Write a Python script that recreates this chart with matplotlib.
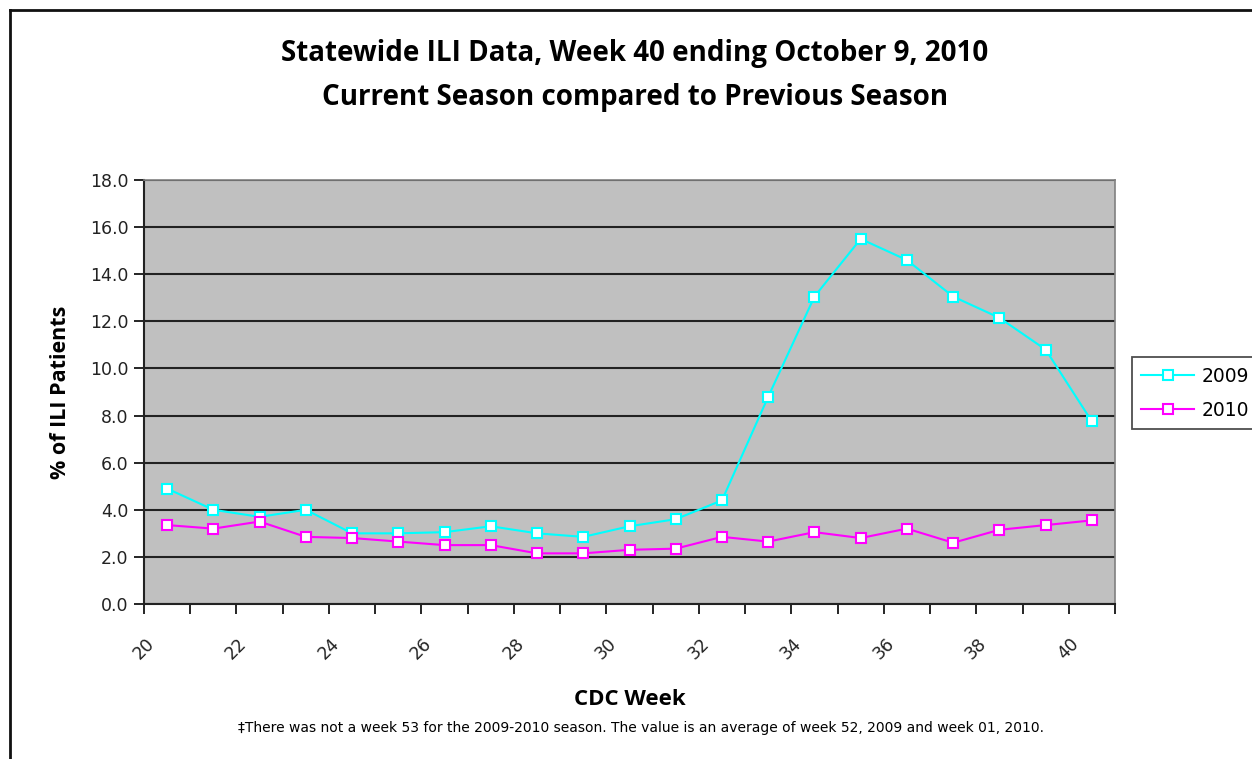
import matplotlib
matplotlib.use("Agg")
import matplotlib.pyplot as plt
import numpy as np
from matplotlib.lines import Line2D

# CDC weeks and % of ILI patients
weeks = list(range(20, 41))
ili_2009 = [4.9, 4.0, 3.7, 4.0, 3.0, 3.0, 3.05, 3.3, 3.0, 2.85, 3.3,
            3.6, 4.4, 8.8, 13.05, 15.5, 14.6, 13.05, 12.15, 10.8, 7.75]
ili_2010 = [3.35, 3.2, 3.5, 2.85, 2.8, 2.65, 2.5, 2.5, 2.15, 2.15, 2.3,
            2.35, 2.85, 2.65, 3.05, 2.8, 3.2, 2.6, 3.15, 3.35, 3.55]
series_names = ["2009", "2010"]
series_colors = ["#00FFFF", "#FF00FF"]
y_ticks = np.arange(0, 18.1, 2)

fig = plt.figure(figsize=(12.52, 7.59), dpi=100)
ax = fig.add_axes([144 / 1252, 1 - 604 / 759, (1115 - 144) / 1252, (604 - 180) / 759])
ax.set_facecolor("#C0C0C0")

for vals, name, col in zip([ili_2009, ili_2010], series_names, series_colors):
    ax.plot(weeks, vals, color=col, lw=1.5, marker="s", ms=7,
            mfc="white", mec=col, mew=1.5, label=name, zorder=3)

ax.set_xlim(19.5, 40.5)
ax.set_ylim(0, 18)
ax.set_yticks(y_ticks)
ax.set_yticklabels(["%.1f" % v for v in y_ticks], fontsize=12.5, color="#222222")
ax.yaxis.grid(True, color="#222222", lw=1.5)
ax.set_axisbelow(True)

# tick marks on category boundaries, labels for even weeks
bounds = np.arange(19.5, 40.6, 1)
ax.set_xticks(bounds)
ax.set_xticklabels([str(int(b + 0.5)) if int(b + 0.5) % 2 == 0 and b < 40 else ""
                    for b in bounds], rotation=45, ha="center", fontsize=12.5, color="#222222")
ax.tick_params(axis="x", direction="out", length=7, width=1.2, pad=15)
ax.tick_params(axis="y", direction="out", length=7, width=1.2, pad=4)

for s in ["left", "bottom"]:
    ax.spines[s].set_color("#222222")
    ax.spines[s].set_linewidth(1.5)
for s in ["top", "right"]:
    ax.spines[s].set_color("#808080")
    ax.spines[s].set_linewidth(1.2)

ax.set_ylabel("% of ILI Patients", fontsize=15.5, fontweight="bold", labelpad=14,
              family="Open Sans")
ax.set_xlabel("CDC Week", fontsize=16, fontweight="bold", labelpad=19, family="Open Sans")

fig.text(0.507, 1 - 53 / 759, "Statewide ILI Data, Week 40 ending October 9, 2010",
         ha="center", va="center", fontsize=20, fontweight="bold", family="Open Sans")
fig.text(0.507, 1 - 97 / 759, "Current Season compared to Previous Season",
         ha="center", va="center", fontsize=20, fontweight="bold", family="Open Sans")
fig.text(0.512, 1 - 728 / 759,
         "\u2021There was not a week 53 for the 2009-2010 season. The value is an average of week 52, 2009 and week 01, 2010.",
         ha="center", va="center", fontsize=10, family="DejaVu Sans")

handles = [Line2D([], [], color=c, lw=1.5, marker="s", ms=7, mfc="white", mec=c, mew=1.5)
           for c in series_colors]
leg = fig.legend(handles, series_names, loc="center left",
                 bbox_to_anchor=(1132 / 1252, 1 - 393 / 759), fontsize=13.5,
                 frameon=True, fancybox=False, edgecolor="#222222", borderaxespad=0,
                 handlelength=2.8, labelspacing=0.8, borderpad=0.5, handletextpad=0.4)
leg.get_frame().set_linewidth(1.3)

# outer chart border (left and top only visible)
fig.add_artist(Line2D([10 / 1252, 10 / 1252], [0, 1 - 10 / 759], color="#111111", lw=2))
fig.add_artist(Line2D([10 / 1252, 1], [1 - 10 / 759, 1 - 10 / 759], color="#111111", lw=2))

fig.savefig("out.png", dpi=100, facecolor="white")
